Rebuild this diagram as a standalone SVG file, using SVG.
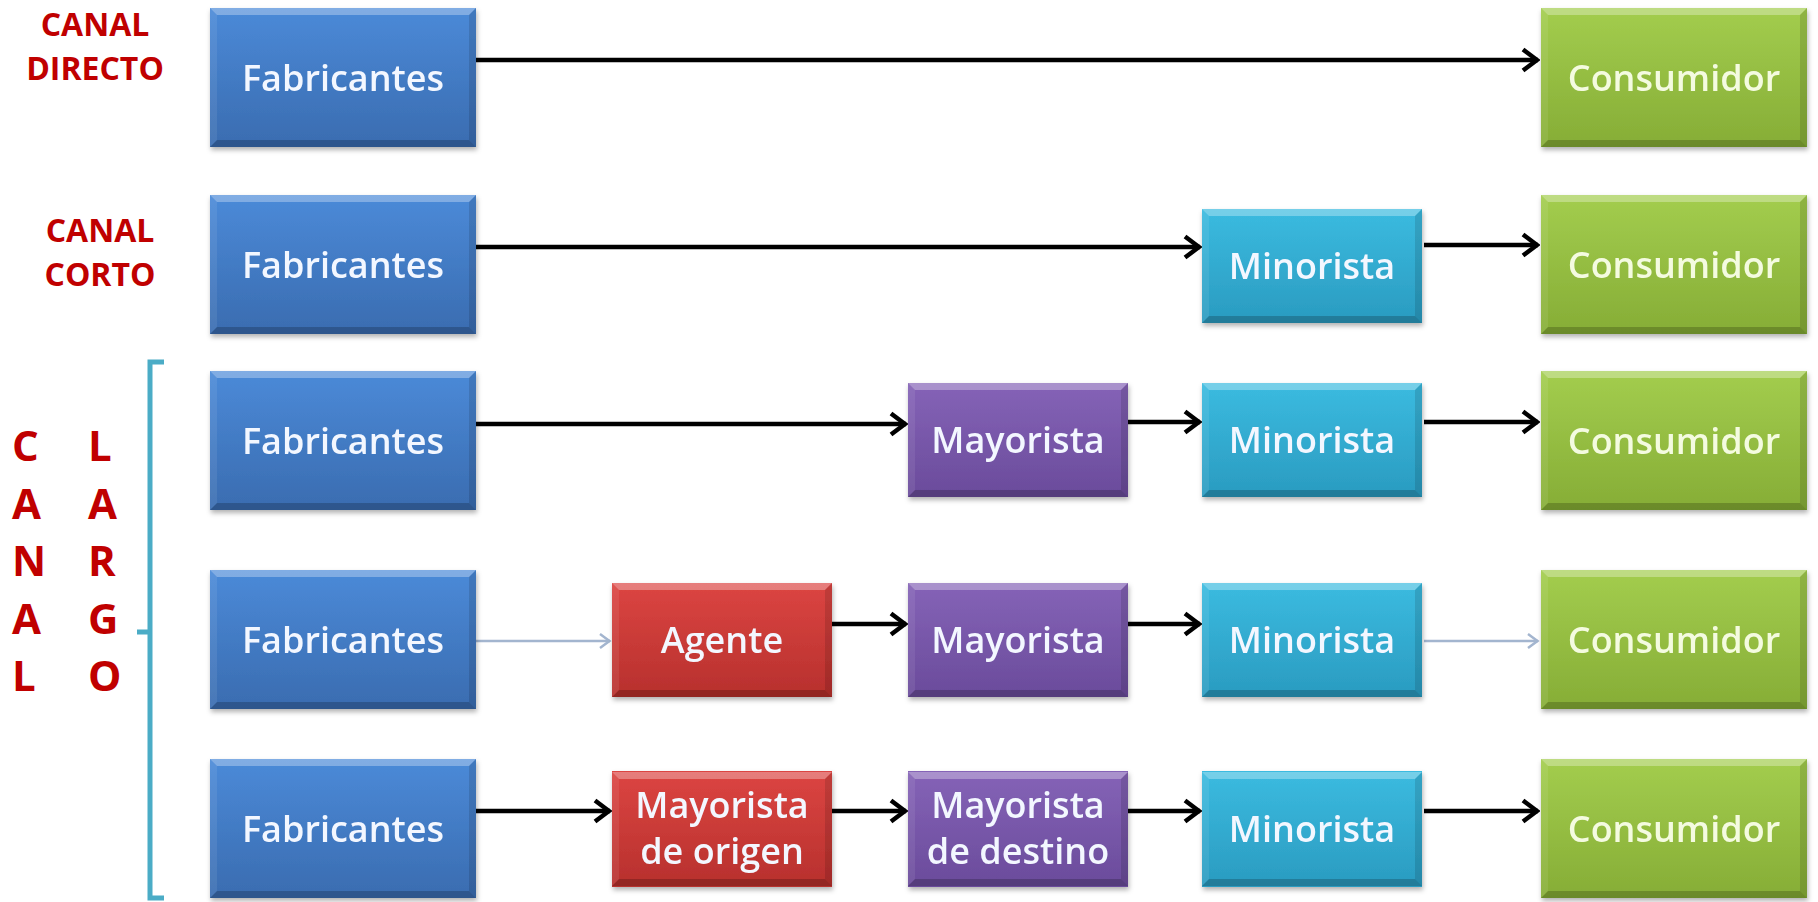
<svg xmlns="http://www.w3.org/2000/svg" xmlns:xlink="http://www.w3.org/1999/xlink" width="1818" height="902" viewBox="0 0 1818 902">
<style>
.lbl{font-family:"Open Sans","Liberation Sans",sans-serif;font-weight:bold;fill:#c00000;font-size:32px;text-anchor:middle}
.vl{font-family:"Open Sans","Liberation Sans",sans-serif;font-weight:bold;fill:#c00000;font-size:42px}
.t{font-family:"Open Sans","Liberation Sans",sans-serif;font-weight:600;font-size:36px;fill:#f3f7ff;text-anchor:middle}
.tg{fill:#f4fbe0}
.arr{stroke:#000;stroke-width:4.5;fill:none;marker-end:url(#ah)}
.arrl{stroke:#a3b5cf;stroke-width:2.5;fill:none;marker-end:url(#ahl)}
.box{filter:url(#sh)}
</style>
<defs>
<linearGradient id="gB" x1="0" y1="0" x2="0" y2="1"><stop offset="0" stop-color="#4b8ad8"/><stop offset="1" stop-color="#3a6cb0"/></linearGradient>
<linearGradient id="gG" x1="0" y1="0" x2="0" y2="1"><stop offset="0" stop-color="#a3cd4e"/><stop offset="1" stop-color="#86ad36"/></linearGradient>
<linearGradient id="gC" x1="0" y1="0" x2="0" y2="1"><stop offset="0" stop-color="#3bbbe0"/><stop offset="1" stop-color="#2a9bc0"/></linearGradient>
<linearGradient id="gP" x1="0" y1="0" x2="0" y2="1"><stop offset="0" stop-color="#8563b7"/><stop offset="1" stop-color="#6a4b9b"/></linearGradient>
<linearGradient id="gR" x1="0" y1="0" x2="0" y2="1"><stop offset="0" stop-color="#dc4542"/><stop offset="1" stop-color="#b7302d"/></linearGradient>
<filter id="sh" x="-5%" y="-5%" width="115%" height="120%"><feDropShadow dx="1" dy="3" stdDeviation="2.5" flood-color="#000" flood-opacity="0.3"/></filter>
<marker id="ah" markerUnits="userSpaceOnUse" viewBox="0 0 20 26" refX="18" refY="13" markerWidth="20" markerHeight="26" orient="auto"><path d="M3,2.5 L17,13 L3,23.5" fill="none" stroke="#000" stroke-width="4.5"/></marker>
<marker id="ahl" markerUnits="userSpaceOnUse" viewBox="0 0 14 18" refX="12" refY="9" markerWidth="14" markerHeight="18" orient="auto"><path d="M2,2 L11.5,9 L2,16" fill="none" stroke="#a3b5cf" stroke-width="2.5"/></marker>
<g id="bvL">
<path d="M0,0 H266 L259,7 H7 Z" fill="#fff" opacity="0.3"/>
<path d="M0,139 H266 L259,132 H7 Z" fill="#000" opacity="0.2"/>
<path d="M0,0 L7,7 V132 L0,139 Z" fill="#fff" opacity="0.08"/>
<path d="M266,0 L259,7 V132 L266,139 Z" fill="#000" opacity="0.12"/>
</g>
<g id="bvS">
<path d="M0,0 H220 L213,7 H7 Z" fill="#fff" opacity="0.3"/>
<path d="M0,114 H220 L213,107 H7 Z" fill="#000" opacity="0.2"/>
<path d="M0,0 L7,7 V107 L0,114 Z" fill="#fff" opacity="0.08"/>
<path d="M220,0 L213,7 V107 L220,114 Z" fill="#000" opacity="0.12"/>
</g>
</defs>
<rect width="1818" height="902" fill="#fff"/>

<g id="labels">
<text class="lbl" x="95" y="36">CANAL</text>
<text class="lbl" x="95" y="80">DIRECTO</text>
<text class="lbl" x="100" y="242">CANAL</text>
<text class="lbl" x="100" y="286">CORTO</text>
<text class="vl" x="12" y="461">C</text>
<text class="vl" x="12" y="519">A</text>
<text class="vl" x="12" y="576">N</text>
<text class="vl" x="12" y="634">A</text>
<text class="vl" x="12" y="691">L</text>
<text class="vl" x="88" y="461">L</text>
<text class="vl" x="88" y="519">A</text>
<text class="vl" x="88" y="576">R</text>
<text class="vl" x="88" y="634">G</text>
<text class="vl" x="88" y="691">O</text>
</g>
<g id="bracket">
<path d="M164,362 H150 V898 H164 M150,632 H137" fill="none" stroke="#4bacc6" stroke-width="5"/>
</g>

<g id="connectors">
<path class="arr" d="M476,60 H1538"/>
<path class="arr" d="M476,247 H1200"/>
<path class="arr" d="M1424,245 H1538"/>
<path class="arr" d="M476,424 H906"/>
<path class="arr" d="M1128,422 H1200"/>
<path class="arr" d="M1424,422 H1538"/>
<path class="arrl" d="M476,641 H610"/>
<path class="arr" d="M831,624 H906"/>
<path class="arr" d="M1128,624 H1200"/>
<path class="arrl" d="M1424,641 H1538"/>
<path class="arr" d="M476,811 H610"/>
<path class="arr" d="M831,811 H906"/>
<path class="arr" d="M1128,811 H1200"/>
<path class="arr" d="M1424,811 H1538"/>
</g>

<!-- Row 1 -->
<g id="fab1" class="box"><rect x="210" y="8" width="266" height="139" fill="url(#gB)"/><use href="#bvL" x="210" y="8"/><text class="t" x="343" y="91">Fabricantes</text></g>
<g id="con1" class="box"><rect x="1541" y="8" width="266" height="139" fill="url(#gG)"/><use href="#bvL" x="1541" y="8"/><text class="t tg" x="1674" y="91">Consumidor</text></g>
<!-- Row 2 -->
<g id="fab2" class="box"><rect x="210" y="195" width="266" height="139" fill="url(#gB)"/><use href="#bvL" x="210" y="195"/><text class="t" x="343" y="278">Fabricantes</text></g>
<g id="min2" class="box"><rect x="1202" y="209" width="220" height="114" fill="url(#gC)"/><use href="#bvS" x="1202" y="209"/><text class="t" x="1312" y="279">Minorista</text></g>
<g id="con2" class="box"><rect x="1541" y="195" width="266" height="139" fill="url(#gG)"/><use href="#bvL" x="1541" y="195"/><text class="t tg" x="1674" y="278">Consumidor</text></g>
<!-- Row 3 -->
<g id="fab3" class="box"><rect x="210" y="371" width="266" height="139" fill="url(#gB)"/><use href="#bvL" x="210" y="371"/><text class="t" x="343" y="454">Fabricantes</text></g>
<g id="may3" class="box"><rect x="908" y="383" width="220" height="114" fill="url(#gP)"/><use href="#bvS" x="908" y="383"/><text class="t" x="1018" y="453">Mayorista</text></g>
<g id="min3" class="box"><rect x="1202" y="383" width="220" height="114" fill="url(#gC)"/><use href="#bvS" x="1202" y="383"/><text class="t" x="1312" y="453">Minorista</text></g>
<g id="con3" class="box"><rect x="1541" y="371" width="266" height="139" fill="url(#gG)"/><use href="#bvL" x="1541" y="371"/><text class="t tg" x="1674" y="454">Consumidor</text></g>
<!-- Row 4 -->
<g id="fab4" class="box"><rect x="210" y="570" width="266" height="139" fill="url(#gB)"/><use href="#bvL" x="210" y="570"/><text class="t" x="343" y="653">Fabricantes</text></g>
<g id="age4" class="box"><rect x="612" y="583" width="220" height="114" fill="url(#gR)"/><use href="#bvS" x="612" y="583"/><text class="t" x="722" y="653">Agente</text></g>
<g id="may4" class="box"><rect x="908" y="583" width="220" height="114" fill="url(#gP)"/><use href="#bvS" x="908" y="583"/><text class="t" x="1018" y="653">Mayorista</text></g>
<g id="min4" class="box"><rect x="1202" y="583" width="220" height="114" fill="url(#gC)"/><use href="#bvS" x="1202" y="583"/><text class="t" x="1312" y="653">Minorista</text></g>
<g id="con4" class="box"><rect x="1541" y="570" width="266" height="139" fill="url(#gG)"/><use href="#bvL" x="1541" y="570"/><text class="t tg" x="1674" y="653">Consumidor</text></g>
<!-- Row 5 -->
<g id="fab5" class="box"><rect x="210" y="759" width="266" height="139" fill="url(#gB)"/><use href="#bvL" x="210" y="759"/><text class="t" x="343" y="842">Fabricantes</text></g>
<g id="mayo5" class="box"><rect x="612" y="771" width="220" height="116" fill="url(#gR)"/><use href="#bvS" x="612" y="772"/><text class="t" x="722" y="818">Mayorista</text><text class="t" x="722" y="864">de origen</text></g>
<g id="mayd5" class="box"><rect x="908" y="771" width="220" height="116" fill="url(#gP)"/><use href="#bvS" x="908" y="772"/><text class="t" x="1018" y="818">Mayorista</text><text class="t" x="1018" y="864">de destino</text></g>
<g id="min5" class="box"><rect x="1202" y="771" width="220" height="116" fill="url(#gC)"/><use href="#bvS" x="1202" y="772"/><text class="t" x="1312" y="842">Minorista</text></g>
<g id="con5" class="box"><rect x="1541" y="759" width="266" height="139" fill="url(#gG)"/><use href="#bvL" x="1541" y="759"/><text class="t tg" x="1674" y="842">Consumidor</text></g>
</svg>
